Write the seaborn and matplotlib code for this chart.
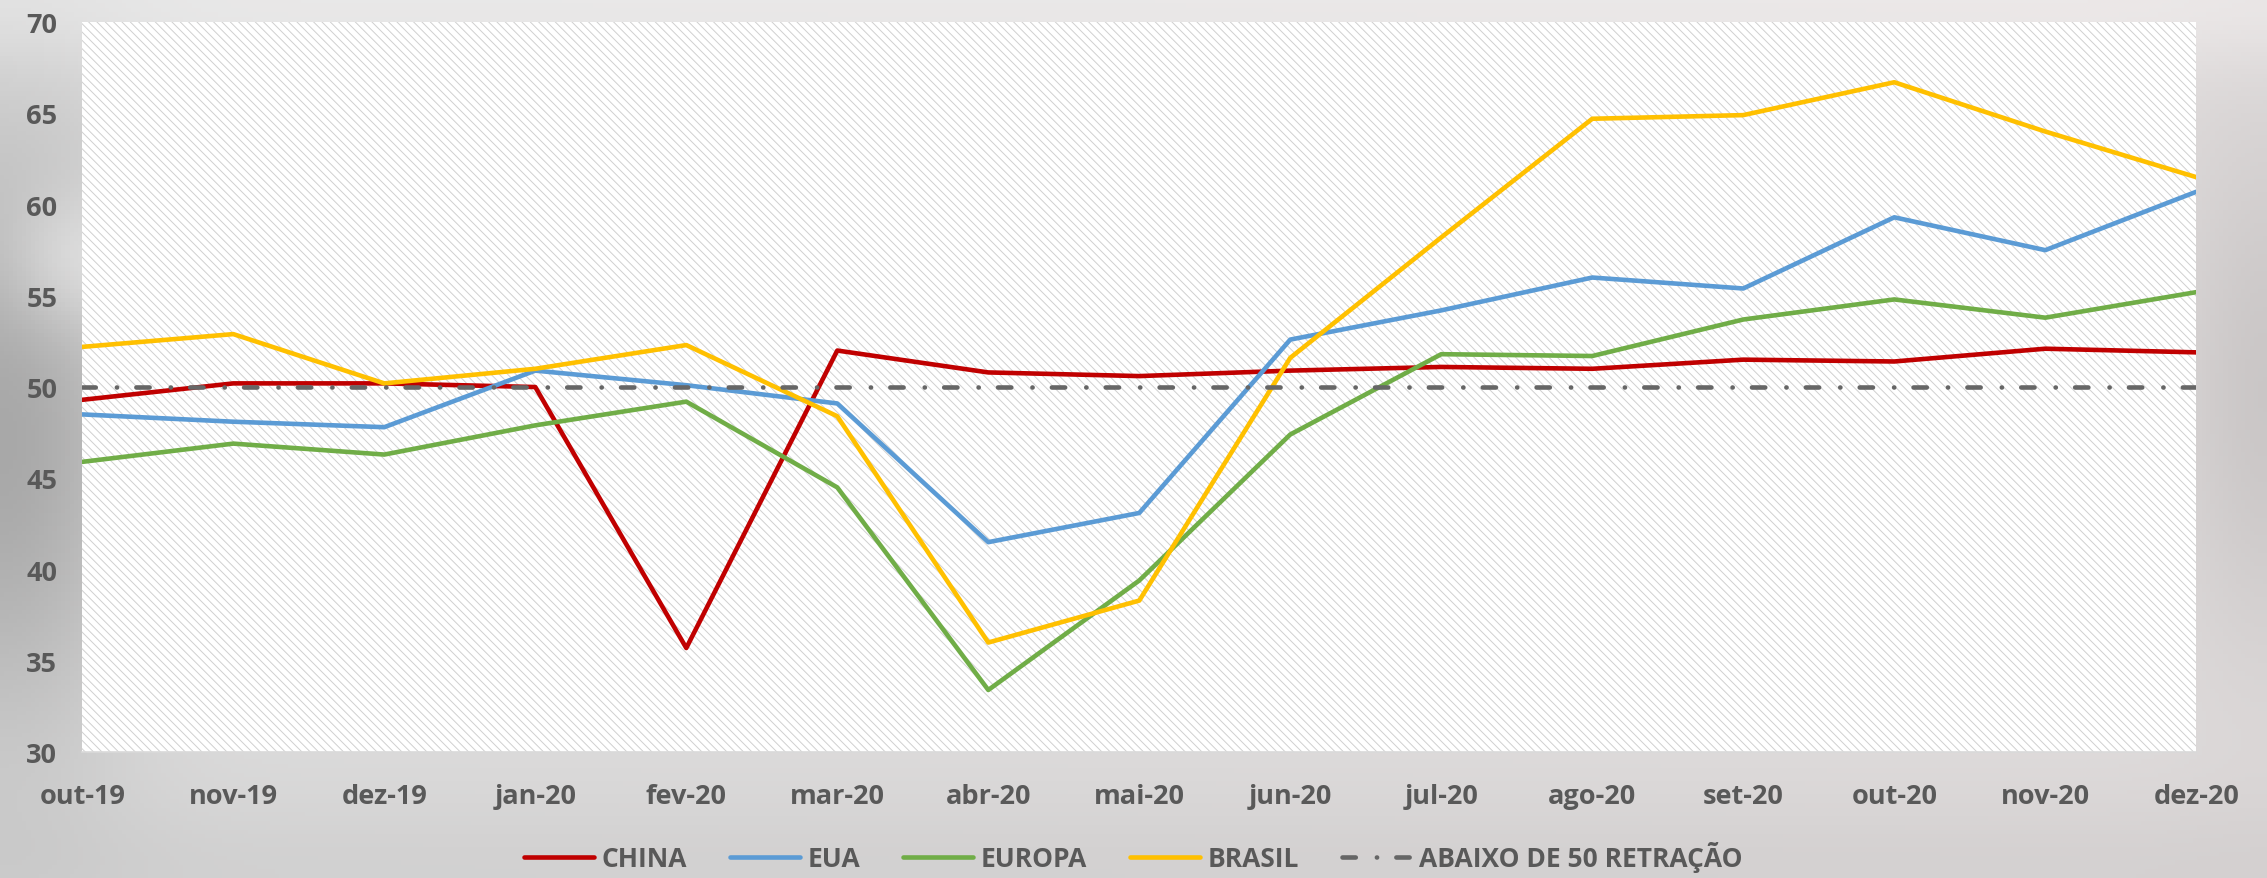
import numpy as np
import pandas as pd
import seaborn as sns
import matplotlib.pyplot as plt
from matplotlib import font_manager
from matplotlib.patches import Rectangle

# PMI industrial (out-19 a dez-20)
meses = ["out-19", "nov-19", "dez-19", "jan-20", "fev-20", "mar-20", "abr-20", "mai-20",
         "jun-20", "jul-20", "ago-20", "set-20", "out-20", "nov-20", "dez-20"]
china = [49.3, 50.2, 50.2, 50.0, 35.7, 52.0, 50.8, 50.6, 50.9, 51.1, 51.0, 51.5, 51.4, 52.1, 51.9]
eua = [48.5, 48.1, 47.8, 50.9, 50.1, 49.1, 41.5, 43.1, 52.6, 54.2, 56.0, 55.4, 59.3, 57.5, 60.7]
europa = [45.9, 46.9, 46.3, 47.9, 49.2, 44.5, 33.4, 39.4, 47.4, 51.8, 51.7, 53.7, 54.8, 53.8, 55.2]
brasil = [52.2, 52.9, 50.2, 51.0, 52.3, 48.4, 36.0, 38.3, 51.6, 58.2, 64.7, 64.9, 66.7, 64.0, 61.5]
limite = [50] * len(meses)

series = ["CHINA", "EUA", "EUROPA", "BRASIL"]
cores = ["#C00000", "#5B9BD5", "#70AD47", "#FFC000"]
nome_limite = "ABAIXO DE 50 RETRAÇÃO"

sns.set_theme(style="white")
instaladas = {f.name for f in font_manager.fontManager.ttflist}
fonte = next(f for f in ["Liberation Sans Narrow", "Open Sans", "Liberation Sans", "DejaVu Sans"]
             if f in instaladas)
plt.rcParams["font.family"] = [fonte, "DejaVu Sans"]
plt.rcParams["hatch.linewidth"] = 0.7
texto = "#595959"
traco = (0, (2.9, 4.6, 0.05, 4.2))  # longo-ponto, em unidades da espessura

fig = plt.figure(figsize=(22.67, 8.79), dpi=100)

# fundo cinza claro com leve gradiente (imitando a imagem de fundo)
bg = fig.add_axes([0, 0, 1, 1], zorder=-10)
yy, xx = np.mgrid[0:1:200j, 0:1:520j]
g = 0.86 - 0.2 * np.exp(-((xx - 0.0) / 0.06) ** 2) * np.exp(-((yy - 0.5) / 0.35) ** 2)
g += 0.1 * np.exp(-((xx - 0.03) / 0.03) ** 2 - ((yy - 0.3) / 0.08) ** 2)
g -= 0.08 * np.exp(-((xx - 1.0) / 0.04) ** 2) * np.exp(-((yy - 0.45) / 0.3) ** 2)
g += 0.05 * np.exp(-((yy - 0.0) / 0.08) ** 2)
g -= 0.04 * np.exp(-((yy - 1.0) / 0.1) ** 2)
rgb = np.dstack([g + 0.015 * xx, g, g])
bg.imshow(np.clip(rgb, 0, 1), aspect="auto", extent=(0, 1, 0, 1), origin="upper")
bg.axis("off")

ax = fig.add_axes([0.0363, 0.1433, 0.9325, 0.8305])
ax.set_facecolor("white")
ax.add_patch(Rectangle((0, 0), 1, 1, transform=ax.transAxes, facecolor="white",
                       edgecolor="#d0d0d0", hatch="\\\\\\\\", lw=0, zorder=0))

pos = np.arange(len(meses))
for nome, vals, cor in zip(series, [china, eua, europa, brasil], cores):
    df = pd.DataFrame({"pos": pos, "valor": vals})
    sns.lineplot(data=df, x="pos", y="valor", color=cor, linewidth=3.3, label=nome, ax=ax, zorder=3)

df50 = pd.DataFrame({"pos": pos, "valor": limite})
sns.lineplot(data=df50, x="pos", y="valor", color="#666666", label=nome_limite, ax=ax, zorder=4)
linha = ax.lines[-1]
linha.set_linewidth(3.3)
linha.set_linestyle(traco)
linha.set_dash_capstyle("round")

ax.set_xlim(0, len(meses) - 1)
ax.set_ylim(30, 70)
ax.set_yticks(range(30, 71, 5))
ax.set_xticks(pos)
ax.set_xticklabels(meses)
ax.set_xlabel("")
ax.set_ylabel("")
for s in ["top", "right", "left"]:
    ax.spines[s].set_visible(False)
ax.spines["bottom"].set_color("#d9d9d9")
ax.spines["bottom"].set_linewidth(1.2)
ax.tick_params(axis="y", length=0, pad=18, labelsize=19.5, labelcolor=texto)
ax.tick_params(axis="x", length=6, width=1.2, color="#d9d9d9", pad=16, labelsize=19.5,
               labelcolor=texto)
for lab in ax.get_xticklabels() + ax.get_yticklabels():
    lab.set_fontweight("bold")

h, l = ax.get_legend_handles_labels()
ax.get_legend().remove()
h[-1].set_linewidth(3.3)
h[-1].set_linestyle(traco)
h[-1].set_dash_capstyle("round")
leg = fig.legend(h, l, loc="center", bbox_to_anchor=(0.5, 0.024), ncol=5, frameon=False,
                 handlelength=2.65, handletextpad=0.27, columnspacing=1.65,
                 prop={"size": 19, "weight": "bold"})
for t in leg.get_texts():
    t.set_color(texto)

fig.savefig("out.png", dpi=100)
